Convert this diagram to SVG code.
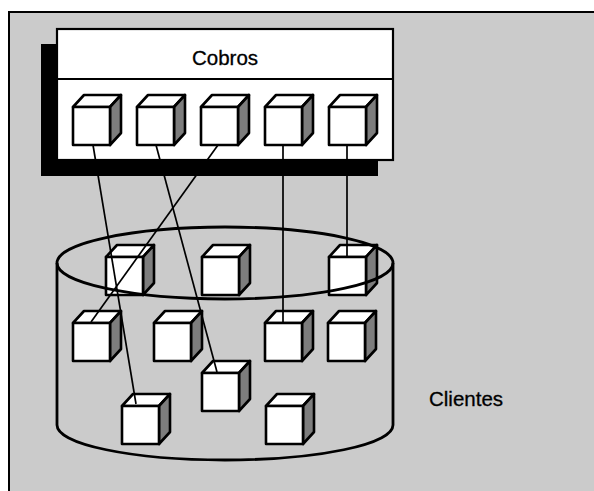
<svg xmlns="http://www.w3.org/2000/svg" xmlns:xlink="http://www.w3.org/1999/xlink" width="594" height="491" viewBox="0 0 594 491">
  <style>
    .frame { fill: #cbcbcb; stroke: #000; stroke-width: 2; }
    .box { fill: #fff; stroke: #000; stroke-width: 2.2; }
    .shadow { fill: #000; }
    .label { font-family: "Liberation Sans", Arial, sans-serif; font-size: 20.5px; fill: #000; stroke: #000; stroke-width: 0.3; }
    .cyl { fill: none; stroke: #000; stroke-width: 2.8; }
    .link { fill: none; stroke: #000; stroke-width: 1.7; }
    .face { stroke: #000; stroke-width: 2.6; stroke-linejoin: round; }
    .front, .top { fill: #fff; }
    .side { fill: #7d7d7d; }
  </style>
  <defs>
    <!-- a cube: 37x38 front face, depth offset (11,-12) -->
    <g id="cube">
      <polygon class="face top" points="0,0 11,-12 48,-12 37,0"/>
      <polygon class="face side" points="37,0 48,-12 48,26 37,38"/>
      <rect class="face front" x="0" y="0" width="37" height="38"/>
    </g>
  </defs>

  <!-- page background and frame -->
  <rect x="0" y="0" width="594" height="491" fill="#fff"/>
  <rect class="frame" x="9" y="12" width="590" height="484"/>

  <!-- Cobros service -->
  <g id="cobros">
    <rect class="shadow" x="41" y="44" width="337" height="132"/>
    <rect class="box" x="57" y="29" width="336" height="131"/>
    <line x1="57" y1="79" x2="393" y2="79" stroke="#000" stroke-width="2"/>
    <text class="label" x="225" y="65" text-anchor="middle">Cobros</text>
  </g>
  <g id="cobros-1"><use xlink:href="#cube" x="73" y="107"/></g>
  <g id="cobros-2"><use xlink:href="#cube" x="137" y="107"/></g>
  <g id="cobros-3"><use xlink:href="#cube" x="201" y="107"/></g>
  <g id="cobros-4"><use xlink:href="#cube" x="265" y="107"/></g>
  <g id="cobros-5"><use xlink:href="#cube" x="329" y="107"/></g>

  <!-- Clientes store contents -->
  <g id="clientes-a"><use xlink:href="#cube" x="106" y="257"/></g>
  <g id="clientes-b"><use xlink:href="#cube" x="202" y="257"/></g>
  <g id="clientes-c"><use xlink:href="#cube" x="329" y="257"/></g>
  <g id="clientes-d"><use xlink:href="#cube" x="73" y="323"/></g>
  <g id="clientes-e"><use xlink:href="#cube" x="154" y="323"/></g>
  <g id="clientes-f"><use xlink:href="#cube" x="265" y="323"/></g>
  <g id="clientes-g"><use xlink:href="#cube" x="328" y="323"/></g>
  <g id="clientes-h"><use xlink:href="#cube" x="202" y="373"/></g>
  <g id="clientes-i"><use xlink:href="#cube" x="122" y="406"/></g>
  <g id="clientes-j"><use xlink:href="#cube" x="266" y="406"/></g>

  <!-- Clientes cylinder outline -->
  <g id="clientes">
    <ellipse class="cyl" cx="225" cy="263" rx="168" ry="36"/>
    <path class="cyl" d="M57,263 L57,425 A168,35 0 0 0 393,425 L393,263"/>
    <text class="label" x="429" y="406">Clientes</text>
  </g>

  <!-- connectors -->
  <g id="connectors">
    <line class="link" x1="93" y1="145" x2="136" y2="404"/>
    <line class="link" x1="156" y1="145" x2="217" y2="372"/>
    <line class="link" x1="218" y1="145" x2="91" y2="322"/>
    <line class="link" x1="283" y1="145" x2="283" y2="322"/>
    <line class="link" x1="347" y1="145" x2="347" y2="256"/>
  </g>
</svg>
